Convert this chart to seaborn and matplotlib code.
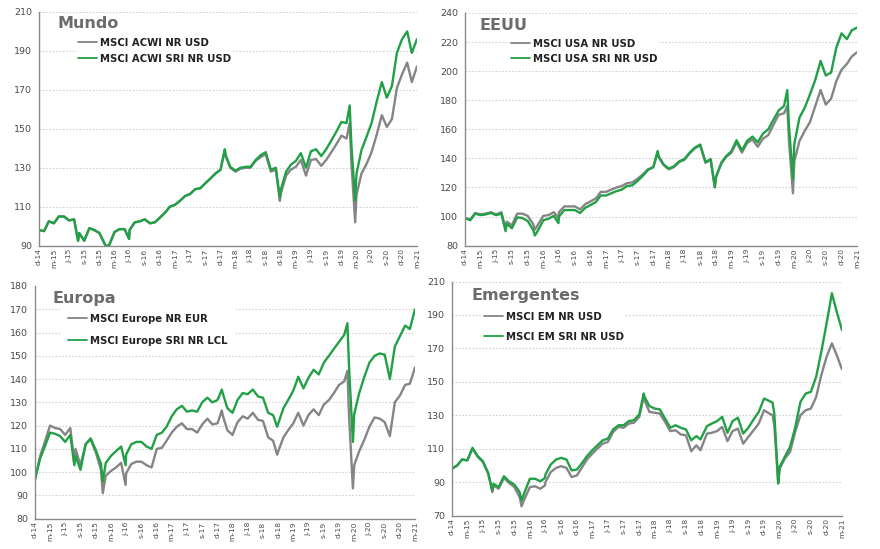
import numpy as np
import pandas as pd
import matplotlib
matplotlib.use('Agg')
import matplotlib.pyplot as plt
import seaborn as sns
from matplotlib.lines import Line2D

# ---------------- data ----------------
dates = [
    '2014-12-31', '2015-01-31', '2015-02-28', '2015-03-31', '2015-04-30', '2015-05-31', '2015-06-30', '2015-07-31', '2015-08-24', '2015-08-31',
    '2015-09-30', '2015-10-31', '2015-11-30', '2015-12-31', '2016-01-31', '2016-02-11', '2016-02-29', '2016-03-31', '2016-04-30', '2016-05-31',
    '2016-06-27', '2016-06-30', '2016-07-31', '2016-08-31', '2016-09-30', '2016-10-31', '2016-11-30', '2016-12-31', '2017-01-31', '2017-02-28',
    '2017-03-31', '2017-04-30', '2017-05-31', '2017-06-30', '2017-07-31', '2017-08-31', '2017-09-30', '2017-10-31', '2017-11-30', '2017-12-31',
    '2018-01-26', '2018-01-31', '2018-02-28', '2018-03-31', '2018-04-30', '2018-05-31', '2018-06-30', '2018-07-31', '2018-08-31', '2018-09-30',
    '2018-10-31', '2018-11-30', '2018-12-24', '2018-12-31', '2019-01-31', '2019-02-28', '2019-03-31', '2019-04-30', '2019-05-31', '2019-06-30',
    '2019-07-31', '2019-08-31', '2019-09-30', '2019-10-31', '2019-11-30', '2019-12-31', '2020-01-31', '2020-02-19', '2020-02-29', '2020-03-23',
    '2020-03-31', '2020-04-30', '2020-05-31', '2020-06-30', '2020-07-31', '2020-08-31', '2020-09-30', '2020-10-31', '2020-11-30', '2020-12-31',
    '2021-01-31', '2021-02-28', '2021-03-31',
]

tick_labels = ['d-14', 'm-15', 'j-15', 's-15', 'd-15', 'm-16', 'j-16', 's-16', 'd-16',
               'm-17', 'j-17', 's-17', 'd-17', 'm-18', 'j-18', 's-18', 'd-18',
               'm-19', 'j-19', 's-19', 'd-19', 'm-20', 'j-20', 's-20', 'd-20', 'm-21']

mundo_acwi = [
    98, 97.5, 102.5, 101.5, 105, 105, 103, 103.5, 92.5, 96.5,
    92.5, 99, 98, 96.5, 91, 89.5, 90.5, 97, 98.5, 98.5,
    93.5, 98, 102, 102.5, 103.5, 101.5, 102, 104.5, 107, 110,
    111, 113, 115.5, 116.5, 119, 119.5, 122, 124.5, 127, 129,
    139, 136, 130, 128, 129.5, 130, 130, 133.5, 135.5, 137,
    128, 129, 113, 117, 126, 129, 130.5, 134, 126, 134,
    134.5, 131, 134, 138, 142, 146.5, 145, 153, 133, 102,
    116, 127, 132, 138, 147, 157, 151, 155, 171, 178,
    184, 174, 182,
]
mundo_sri = [
    98, 97.5, 102.5, 101.5, 105, 105, 103, 103.5, 92.5, 96.5,
    92.5, 99, 98, 96.5, 91, 89.5, 90.5, 97, 98.5, 98.5,
    93.5, 98, 102, 102.5, 103.5, 101.5, 102, 104.5, 107, 110,
    111, 113, 115.5, 116.5, 119, 119.5, 122, 124.5, 127, 129,
    139.5, 136.5, 130.5, 128.5, 130, 130.5, 130.5, 134, 136.5, 138,
    129, 130, 115, 119, 128, 131.5, 133.5, 137.5, 130, 138.5,
    139.5, 136, 139.5, 144, 148.5, 153.5, 153, 162, 142, 113,
    127, 139, 146, 153, 164, 174, 166, 172, 189, 196,
    200, 189, 196,
]

usa = [
    99, 98, 102.5, 101.5, 102, 103, 101.5, 103, 92, 96.5,
    94, 102, 102, 100.5, 95, 91, 94.5, 100.5, 101, 103,
    99, 103, 107, 107, 107, 105, 108.5, 110.5, 112.5, 117,
    117, 118.5, 120, 121, 123, 123.5, 126, 129, 132.5, 134,
    144.5, 141, 135.5, 132.5, 134, 137.5, 139, 143.5, 147, 149,
    137, 139, 120, 127, 136.5, 141, 144, 151, 144, 150.5,
    153, 148, 153.5, 156, 163, 170, 171, 176, 152, 116,
    138, 152, 159, 165, 176, 187, 177, 181, 193, 201,
    205, 210, 213,
]
usa_sri = [
    99, 97.5, 102, 101, 101.5, 102.5, 101, 102, 90, 95,
    92, 99.5, 99, 97, 91, 87, 90.5, 97.5, 98.5, 100.5,
    95.5, 100, 104.5, 104.5, 104.5, 102.5, 106, 108, 110, 114.5,
    114.5, 116, 117.5, 118.5, 121, 121.5, 124.5, 128, 132, 134,
    145, 141.5, 136, 133, 134.5, 138, 139.5, 144, 147.5, 149.5,
    137.5, 139.5, 120.5, 127.5, 137, 141.5, 145, 152.5, 145.5, 152,
    155, 151, 157, 160, 166.5, 173, 176, 187, 162, 126,
    150, 168, 175, 184, 194, 207, 197, 199, 216, 226,
    222, 228, 230,
]

europe = [
    97, 107, 113, 120, 119, 118.5, 116, 119, 104, 110,
    103, 112, 114, 108.5, 101, 91, 98.5, 100.5, 102, 104,
    94.5, 99.5, 103.5, 104.5, 104.5, 103, 102, 110, 110.5, 113.5,
    117, 119.5, 121, 118.5, 118.5, 117, 120.5, 123, 120.5, 121,
    126.5, 124.5, 118, 116, 121.5, 124, 123, 125.5, 122.5, 122,
    115, 113.5, 107.5, 109, 115, 118, 121, 125.5, 120, 124.5,
    127, 124.5, 129, 131, 134, 137.5, 139, 143.5, 124, 93,
    103, 109, 114, 119.5, 123.5, 123, 121.5, 115.5, 130, 133,
    137.5, 138, 145,
]
europe_sri = [
    97, 106, 111, 117, 116.5, 115.5, 113, 116, 103, 107,
    101, 112, 114.5, 109.5, 103.5, 96, 104, 107, 109, 111,
    103, 107.5, 112, 113, 113, 111, 110, 116, 117, 119.5,
    124, 127, 128.5, 126, 126.5, 126, 130, 132, 130, 131,
    135.5, 134, 127.5, 125.5, 131, 134, 133.5, 135.5, 132.5, 132,
    125.5, 124.5, 119.5, 121, 127.5, 131, 135, 141, 136, 140.5,
    144, 142, 147, 150, 153, 156, 159, 164, 145, 113,
    125, 134, 141, 147, 150, 151, 150.5, 140, 154, 158.5,
    163, 161.5, 170,
]

em = [
    98, 100, 103.5, 103, 110, 105, 102, 95, 84, 88,
    86, 92.5, 89.5, 87, 81, 75.5, 80, 87, 87.5, 86,
    88, 90, 96, 98.5, 99.5, 98.5, 93, 94, 99, 103.5,
    107, 110, 113, 114, 120, 123, 122.5, 125, 125.5, 129,
    141, 139, 132, 131.5, 131, 126, 120.5, 121, 118.5, 118,
    108.5, 112, 109, 111, 119, 119.5, 120.5, 123, 114.5, 120.5,
    122, 113, 117, 121, 125, 133, 131, 130, 124, 89,
    98, 104, 108, 120, 130, 133, 134, 141, 154, 165,
    173, 166, 157.5,
]
em_sri = [
    98, 100, 103.5, 103, 110.5, 105.5, 102.5, 95.5, 85, 89,
    87, 93.5, 90.5, 88.5, 84, 79, 84, 92, 92, 90.5,
    92.5, 94.5, 100.5, 103.5, 104.5, 103.5, 97, 97.5, 101.5, 105.5,
    109, 112, 115, 116, 121.5, 124, 124, 126.5, 127, 130.5,
    143, 141, 135.5, 134, 133.5, 128, 122.5, 124, 122.5, 121.5,
    115, 117.5, 115.5, 117, 123.5, 125, 126.5, 129, 119.5, 126.5,
    128.5, 119, 122.5, 127.5, 132, 140, 138.5, 137.5, 131, 89.5,
    99, 105, 111, 122.5, 138, 143, 144, 153, 168, 185,
    203, 192, 181,
]

# ---------------- style ----------------
GREEN = '#21a046'
GRAY = '#858585'

sns.set_style('white')
plt.rcParams['font.family'] = ['DejaVu Sans']

fig = plt.figure(figsize=(8.8, 5.49), dpi=100)

panels = [
    dict(title='Mundo', names=('MSCI ACWI NR USD', 'MSCI ACWI SRI NR USD'),
         vals=(mundo_acwi, mundo_sri), ylim=(90, 210), step=20,
         rect=[0.0443, 0.5525, 0.4295, 0.4257], leg=(0.100, 0.893), lsp=0.55,
         bpad=0.1, tpos=(0.048, 0.951), topgrid=True),
    dict(title='EEUU', names=('MSCI USA NR USD', 'MSCI USA SRI NR USD'),
         vals=(usa, usa_sri), ylim=(80, 240), step=20,
         rect=[0.5284, 0.5525, 0.4455, 0.4239], leg=(0.115, 0.893), lsp=0.5,
         bpad=0.1, tpos=(0.038, 0.944), topgrid=True),
    dict(title='Europa', names=('MSCI Europe NR EUR', 'MSCI Europe SRI NR LCL'),
         vals=(europe, europe_sri), ylim=(80, 180), step=10,
         rect=[0.0398, 0.0552, 0.4318, 0.4239], leg=(0.071, 0.906), lsp=1.15,
         bpad=0.6, tpos=(0.045, 0.948), topgrid=False),
    dict(title='Emergentes', names=('MSCI EM NR USD', 'MSCI EM SRI NR USD'),
         vals=(em, em_sri), ylim=(70, 210), step=20,
         rect=[0.5136, 0.0610, 0.4432, 0.4262], leg=(0.079, 0.874), lsp=0.95,
         bpad=0.1, tpos=(0.051, 0.942), topgrid=True),
]

try:
    tick_dates = pd.date_range('2014-12-31', '2021-03-31', freq='QE')
except Exception:
    tick_dates = pd.date_range('2014-12-31', '2021-03-31', freq='Q')

x0 = pd.Timestamp('2014-12-31')
x1 = pd.Timestamp('2021-03-31')

for p in panels:
    ax = fig.add_axes(p['rect'])
    n1, n2 = p['names']
    a, b = p['vals']
    df = pd.DataFrame({
        'fecha': pd.to_datetime(list(dates) + list(dates)),
        'valor': list(a) + list(b),
        'serie': [n1] * len(a) + [n2] * len(b),
    })
    sns.lineplot(data=df, x='fecha', y='valor', hue='serie', hue_order=[n1, n2],
                 palette={n1: GRAY, n2: GREEN}, estimator=None, linewidth=1.7,
                 ax=ax, legend=False)
    ax.set_xlim(x0, x1)
    lo, hi = p['ylim']
    ax.set_ylim(lo, hi)
    ax.set_yticks(np.arange(lo, hi + 1, p['step']))
    ax.set_xticks(tick_dates)
    ax.set_xticklabels(tick_labels, rotation=90)
    ax.set_xlabel('')
    ax.set_ylabel('')
    ax.yaxis.grid(True, linestyle=(0, (1.5, 1.5)), color='#d2d2d2', linewidth=0.8)
    ax.xaxis.grid(False)
    if not p['topgrid']:
        ax.get_ygridlines()[-1].set_visible(False)
    ax.set_axisbelow(True)
    for s in ('top', 'right'):
        ax.spines[s].set_visible(False)
    for s in ('left', 'bottom'):
        ax.spines[s].set_color('#8a8a8a')
        ax.spines[s].set_linewidth(1.0)
    ax.tick_params(axis='y', length=0, pad=5, labelsize=6.8, labelcolor='#4a4a4a')
    ax.tick_params(axis='x', length=0, pad=2, labelsize=5.4, labelcolor='#4a4a4a')
    ax.set_facecolor('white')

    ax.text(p['tpos'][0], p['tpos'][1], p['title'], transform=ax.transAxes,
            fontsize=11.5, fontweight='bold', color='#6b6b6b', ha='left', va='center',
            zorder=6)

    handles = [Line2D([0], [0], color=GRAY, lw=1.3), Line2D([0], [0], color=GREEN, lw=1.3)]
    leg = ax.legend(handles, [n1, n2], loc='upper left', bbox_to_anchor=p['leg'],
                    frameon=True, facecolor='white', edgecolor='none', framealpha=1,
                    prop={'weight': 'bold', 'size': 7.3}, handlelength=1.9,
                    handletextpad=0.3, labelspacing=p['lsp'], borderpad=p['bpad'],
                    borderaxespad=0)
    for t in leg.get_texts():
        t.set_color('#222222')

fig.savefig('out.png', dpi=100, facecolor='white')
